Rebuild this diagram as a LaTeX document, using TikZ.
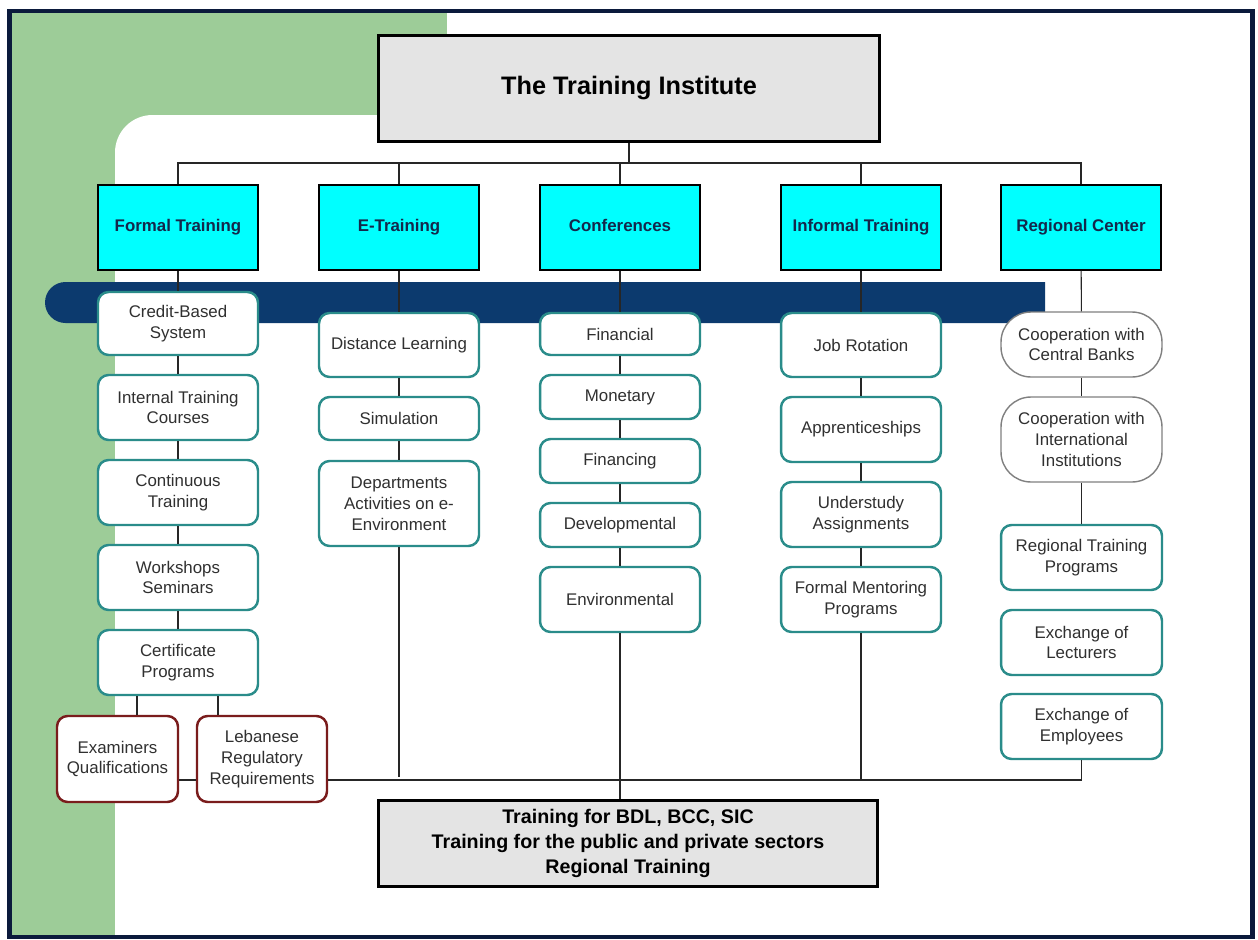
\documentclass[tikz,border=0pt]{standalone}
\usepackage{fontspec}
\setmainfont{Liberation Sans}
\usetikzlibrary{positioning}
\definecolor{bgGreen}{HTML}{9DCC98}
\definecolor{bandBlue}{HTML}{0C3A6E}
\definecolor{frameNavy}{HTML}{0B1A3C}
\definecolor{boxTeal}{HTML}{2A8C8A}
\definecolor{boxRed}{HTML}{7A1C1C}
\definecolor{catText}{HTML}{14284B}
\definecolor{catCyan}{HTML}{00FFFF}
\definecolor{subText}{HTML}{303030}
\definecolor{headGray}{HTML}{E4E4E4}
\newcommand{\catfont}{\fontsize{9.6}{11.9}\selectfont\bfseries}
\newcommand{\subfont}{\fontsize{9.6}{11.9}\selectfont}
\newcommand{\headfont}{\fontsize{14.4}{17}\selectfont\bfseries}
\newcommand{\botfont}{\fontsize{11.2}{14.2}\selectfont\bfseries}
\tikzset{cat/.style={draw, line width=.8pt, fill=catCyan, text=catText,
  minimum width=3.2cm, minimum height=1.7cm, font=\catfont,
  text height=.72em, text depth=.22em}}
\tikzset{sub/.style={draw=boxTeal, line width=1.4pt, fill=white, text=subText,
  rounded corners=6pt, minimum width=3.2cm, align=center, font=\subfont}}
\tikzset{subr/.style={sub, draw=boxRed}}
\tikzset{pill/.style={sub, draw=gray, line width=.8pt, rounded corners=.6cm,
  minimum width=3.22cm}}
\tikzset{head/.style={draw, line width=1.7pt, fill=headGray, align=center}}
\tikzset{ln/.style={draw=black!85, line width=.6pt}}

\begin{document}
\begin{tikzpicture}[x=0.02cm, y=-0.02cm]
        \useasboundingbox (0,0) rectangle (1258,940);
        %% background, frame and band
        \fill[bgGreen] (12,12) rectangle (447,936);
        \begin{scope}
            \clip (12,12) rectangle (1251,936);
            \fill[white, rounded corners=.75cm] (115,115) rectangle (1400,1100);
        \end{scope}
        \draw[frameNavy, line width=2.6pt] (9.5,11) rectangle (1252.5,937);
        \begin{scope}
            \clip (0,0) rectangle (1045,940);
            \fill[bandBlue, rounded corners=.41cm] (45,282) rectangle (1100,323);
        \end{scope}
        %% top and bottom
        \node (ti) at (629,88.5) [head, minimum width=10.04cm,
            minimum height=2.12cm, font=\headfont] {The Training Institute};
        \node (out) at (628,843.5) [head, minimum width=10cm,
            minimum height=1.72cm, font=\botfont]
            {Training for BDL, BCC, SIC\\Training for the public and private sectors\\Regional Training};
        %% categories
        \node (ft) at (178,227.5) [cat] {Formal Training};
        \node (et) at (399,227.5) [cat] {E-Training};
        \node (cf) at (620,227.5) [cat] {Conferences};
        \node (it) at (861,227.5) [cat] {Informal Training};
        \node (rc) at (1081,227.5) [cat] {Regional Center};
        %% formal
        \node (cbs) at (178,323.5) [sub, minimum height=1.26cm] {Credit-Based\\System};
        \node (itc) at (178,407.5) [sub, minimum height=1.3cm] {Internal Training\\Courses};
        \node (ct) at (178,492.5) [sub, minimum height=1.3cm] {Continuous\\Training};
        \node (ws) at (178,577.5) [sub, minimum height=1.3cm] {Workshops\\Seminars};
        \node (cp) at (178,662.5) [sub, minimum height=1.3cm] {Certificate\\Programs};
        \node (eq) at (117.5,759) [subr, minimum width=2.42cm,
            minimum height=1.72cm] {Examiners\\Qualifications};
        \node (lrr) at (262,759) [subr, minimum width=2.6cm,
            minimum height=1.72cm] {Lebanese\\Regulatory\\Requirements};
        %% e-training
        \node (dl) at (399,345) [sub, minimum height=1.28cm] {Distance Learning};
        \node (sim) at (399,418.5) [sub, minimum height=.86cm] {Simulation};
        \node (dae) at (399,503.5) [sub, minimum height=1.7cm] {Departments\\Activities on e-\\Environment};
        %% conferences
        \node (fin) at (620,334) [sub, minimum height=.84cm] {Financial};
        \node (mon) at (620,397) [sub, minimum height=.88cm] {Monetary};
        \node (fing) at (620,461) [sub, minimum height=.88cm] {Financing};
        \node (dev) at (620,525) [sub, minimum height=.88cm] {Developmental};
        \node (env) at (620,599.5) [sub, minimum height=1.3cm] {Environmental};
        %% informal
        \node (jr) at (861,345) [sub, minimum height=1.28cm] {Job Rotation};
        \node (app) at (861,429.5) [sub, minimum height=1.3cm] {Apprenticeships};
        \node (ua) at (861,514.5) [sub, minimum height=1.3cm] {Understudy\\Assignments};
        \node (fmp) at (861,599.5) [sub, minimum height=1.3cm] {Formal Mentoring\\Programs};
        %% regional
        \node (ccb) at (1081.5,344.5) [pill, minimum height=1.3cm] {Cooperation with\\Central Banks};
        \node (cii) at (1081.5,439.5) [pill, minimum height=1.7cm] {Cooperation with\\International\\Institutions};
        \node (rtp) at (1081.5,557.5) [sub, minimum width=3.22cm, minimum height=1.3cm] {Regional Training\\Programs};
        \node (el) at (1081.5,642.5) [sub, minimum width=3.22cm, minimum height=1.3cm] {Exchange of\\Lecturers};
        \node (ee) at (1081.5,726.5) [sub, minimum width=3.22cm, minimum height=1.3cm] {Exchange of\\Employees};
        %% bus
        \coordinate (bus) at (629,163);
        \draw [ln] (ti) -- (bus);
        \draw [ln] (ft.north) |- (bus) -| (rc.north);
        \draw [ln] (et.north) -- (et.north |- bus);
        \draw [ln] (cf.north) -- (cf.north |- bus);
        \draw [ln] (it.north) -- (it.north |- bus);
        %% columns
        \draw [ln] (ft) -- (cbs); \draw [ln] (cbs) -- (itc); \draw [ln] (itc) -- (ct);
        \draw [ln] (ct) -- (ws); \draw [ln] (ws) -- (cp);
        \draw [ln] (et) -- (dl); \draw [ln] (dl) -- (sim); \draw [ln] (sim) -- (dae);
        \draw [ln] (cf) -- (fin); \draw [ln] (fin) -- (mon); \draw [ln] (mon) -- (fing);
        \draw [ln] (fing) -- (dev); \draw [ln] (dev) -- (env);
        \draw [ln] (it) -- (jr); \draw [ln] (jr) -- (app); \draw [ln] (app) -- (ua);
        \draw [ln] (ua) -- (fmp);
        \draw [ln] (rc) -- (ccb); \draw [ln] (ccb) -- (cii); \draw [ln] (cii) -- (rtp);
        %% lower part
        \draw [ln] ([xshift=-.82cm]cp.south) -- ([xshift=-.82cm]cp.south |- eq.north);
        \draw [ln] ([xshift=.8cm]cp.south) -- ([xshift=.8cm]cp.south |- lrr.north);
        \coordinate (base) at ([yshift=-.42cm]lrr.east);
        \draw [ln] ([yshift=-.42cm]eq.east) -- ([yshift=-.42cm]lrr.west);
        \draw [ln] (base) -| (ee.south);
        \draw [ln] (dae.south) -- ++(0,230);
        \draw [ln] (fmp.south) -- (fmp.south |- base);
        \draw [ln] (env.south) -- (env.south |- out.north);
    \end{tikzpicture}
\end{document}
